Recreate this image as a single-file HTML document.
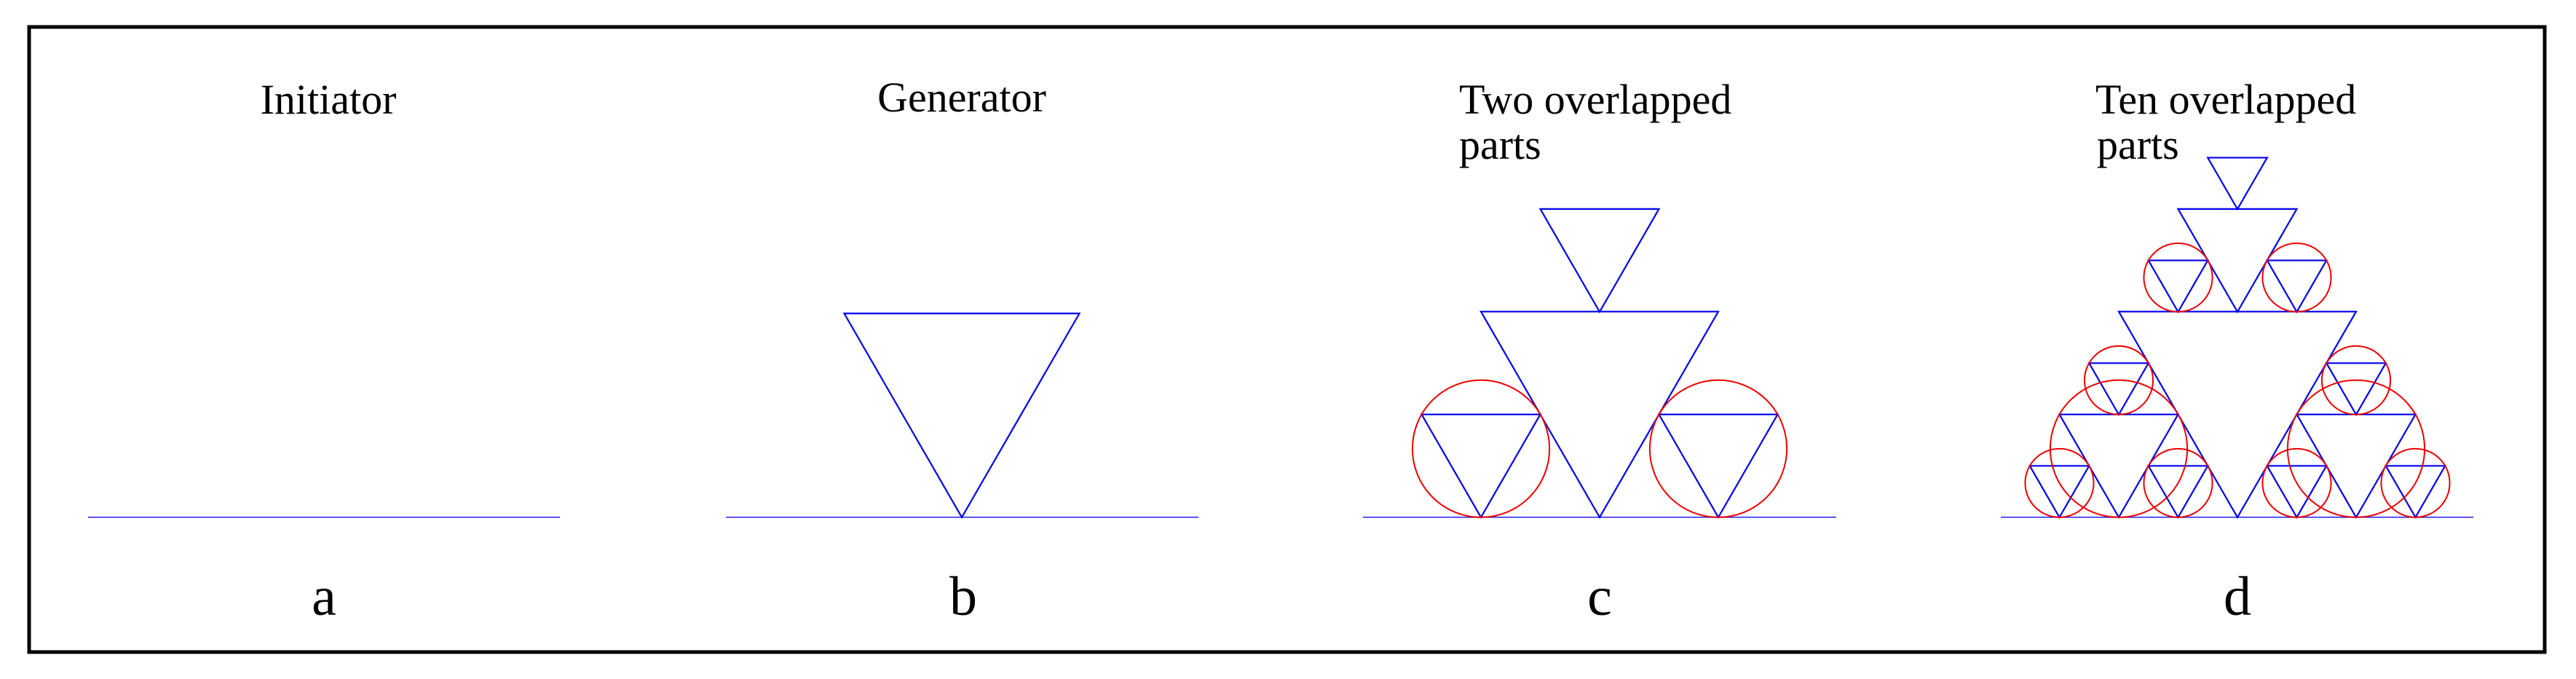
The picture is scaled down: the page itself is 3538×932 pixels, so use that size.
<!DOCTYPE html>
<html><head><meta charset="utf-8"><style>
html,body{margin:0;padding:0;background:#fff;}
svg{display:block;}
text{font-family:"Liberation Serif",serif;fill:#000;}
</style></head><body>
<svg width="3538" height="932" viewBox="0 0 3538 932" xmlns="http://www.w3.org/2000/svg">
<rect x="40" y="37" width="3455" height="858" fill="none" stroke="#000" stroke-width="5"/>
<g font-size="58">
<text x="451" y="156" text-anchor="middle">Initiator</text>
<text x="1321" y="153" text-anchor="middle">Generator</text>
<text x="2004" y="156">Two overlapped</text>
<text x="2004" y="218">parts</text>
<text x="2878" y="156">Ten overlapped</text>
<text x="2880" y="218">parts</text>
</g>
<g font-size="76" text-anchor="middle">
<text x="445" y="844">a</text>
<text x="1323" y="844">b</text>
<text x="2197" y="844">c</text>
<text x="3073" y="844">d</text>
</g>
<g stroke="#2222ee" stroke-width="1.6">
<line x1="121" y1="710" x2="769" y2="710"/>
<line x1="997" y1="710" x2="1646" y2="710"/>
<line x1="1872" y1="710" x2="2522" y2="710"/>
<line x1="2748" y1="710" x2="3397" y2="710"/>
</g>
<g id="tris" fill="none" stroke="#0000ee" stroke-width="2.2" stroke-linejoin="miter"></g>
<g id="circs" fill="none" stroke="#ee0000" stroke-width="2"></g>
<script>
var T=document.getElementById('tris'),C=document.getElementById('circs'),NS='http://www.w3.org/2000/svg';
function tri(cx,ay,w,circ){var h=w*0.866,p=document.createElementNS(NS,'polygon');
p.setAttribute('points',(cx-w/2)+','+(ay-h)+' '+(cx+w/2)+','+(ay-h)+' '+cx+','+ay);T.appendChild(p);
if(circ){var r=w/Math.sqrt(3),c=document.createElementNS(NS,'circle');c.setAttribute('cx',cx);c.setAttribute('cy',ay-r);c.setAttribute('r',r);C.appendChild(c);}}
tri(1321,710,323,false);
var c=2197;tri(c,710,326);tri(c,428,163);tri(c-163,710,163,1);tri(c+163,710,163,1);
c=3073;tri(c,710,326);tri(c,428,163);tri(c,287,81.5);
[-1,1].forEach(function(s){tri(c+s*81.5,428,81.5,1);tri(c+s*163,710,163,1);tri(c+s*163,569,81.5,1);tri(c+s*163-81.5,710,81.5,1);tri(c+s*163+81.5,710,81.5,1);});
</script>
</svg>
</body></html>
